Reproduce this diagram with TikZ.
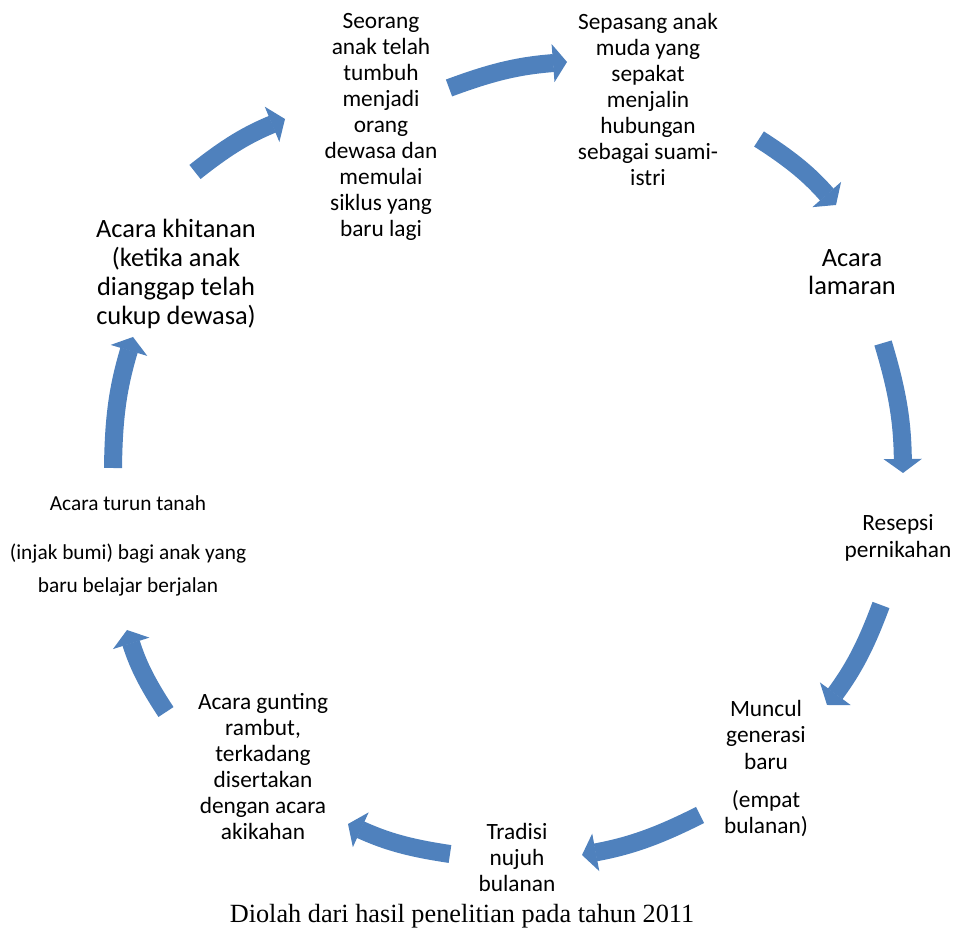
\documentclass[tikz,border=0pt]{standalone}
\usepackage{fontspec}
\setmainfont{Carlito}
\newfontfamily\capfont{Liberation Serif}
\usetikzlibrary{arrows.meta}
\definecolor{arrowblue}{RGB}{79,129,189}
\begin{document}
\begin{tikzpicture}[x=0.75pt,y=0.75pt,
  cyc/.style={draw=arrowblue, line width=13.5pt,
    -{Triangle[length=10.5pt,width=28.5pt,line width=1pt]}, bend left=8},
  txt/.style={align=center, inner sep=0pt,
    font=\fontsize{17.5}{19.5}\selectfont,
    execute at begin node=\strut, execute at end node=\strut},
  bigtxt/.style={txt, font=\fontsize{19.8}{21.5}\selectfont},
  smalltxt/.style={txt, font=\fontsize{16}{24.75}\selectfont}]
\useasboundingbox (0,0) rectangle (959,931);

% text nodes
\node[txt] (seorang) at (381,802) {Seorang\\anak telah\\tumbuh\\menjadi\\orang\\dewasa dan\\memulai\\siklus yang\\baru lagi};
\node[txt] (sepasang) at (648,827.5) {Sepasang anak\\muda yang\\sepakat\\menjalin\\hubungan\\sebagai suami-\\istri};
\node[bigtxt, font=\fontsize{19.8}{21}\selectfont] (lamaran) at (852,654.5) {Acara\\lamaran};
\node[txt, font=\fontsize{17.5}{19.75}\selectfont] (resepsi) at (898,391) {Resepsi\\pernikahan};
\node[txt, font=\fontsize{17.5}{19.9}\selectfont] (muncul) at (766,160) {Muncul\\generasi\\baru\\[8.6pt](empat\\bulanan)};
\node[txt] (tradisi) at (517,70) {Tradisi\\nujuh\\bulanan};
\node[txt] (gunting) at (263,161) {Acara gunting\\rambut,\\terkadang\\disertakan\\dengan acara\\akikahan};
\node[smalltxt] (turun) at (128,382) {Acara turun tanah\\[12pt](injak bumi) bagi anak yang\\baru belajar berjalan};
\node[bigtxt, font=\fontsize{19.8}{21.75}\selectfont] (khitanan) at (176,654.5) {Acara khitanan\\(ketika anak\\dianggap telah\\cukup dewasa)};
\node[anchor=base, inner sep=0pt, font=\capfont\fontsize{19.7}{22}\selectfont] (caption) at (462,9) {Diolah dari hasil penelitian pada tahun 2011};

% arrow end points
\coordinate (a1t) at (449,843); \coordinate (a1h) at (567,869);
\coordinate (a2t) at (759,792); \coordinate (a2h) at (836,726);
\coordinate (a3t) at (883,588); \coordinate (a3h) at (903,458);
\coordinate (a4t) at (881,326); \coordinate (a4h) at (827,226);
\coordinate (a5t) at (700,116); \coordinate (a5h) at (582,76);
\coordinate (a6t) at (450,77);  \coordinate (a6h) at (348,107);
\coordinate (a7t) at (166,219); \coordinate (a7h) at (127,301);
\coordinate (a8t) at (113,463); \coordinate (a8h) at (133,594);
\coordinate (a9t) at (195,759); \coordinate (a9h) at (285,812);

\draw[cyc] (a1t) to (a1h);
\draw[cyc] (a2t) to (a2h);
\draw[cyc] (a3t) to (a3h);
\draw[cyc] (a4t) to (a4h);
\draw[cyc] (a5t) to (a5h);
\draw[cyc] (a6t) to (a6h);
\draw[cyc] (a7t) to (a7h);
\draw[cyc] (a8t) to (a8h);
\draw[cyc] (a9t) to (a9h);
\end{tikzpicture}
\end{document}
